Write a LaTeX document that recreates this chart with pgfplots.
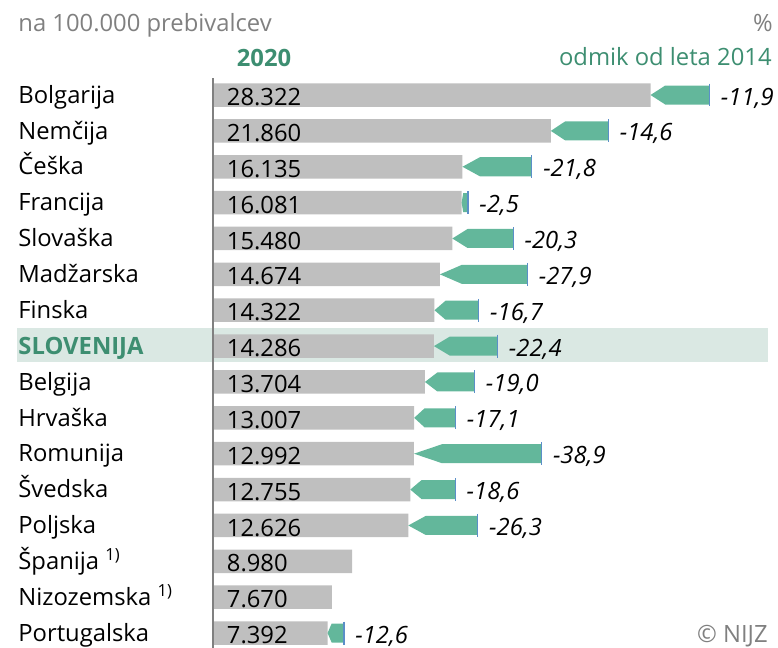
\documentclass[border=0pt]{standalone}
\usepackage{fontspec}
\setmainfont{Open Sans}
\usepackage{pgfplots}
\pgfplotsset{compat=1.18}
\usepackage{pgfplotstable}
\definecolor{bargray}{HTML}{BFBFBF}
\definecolor{arrowgreen}{HTML}{63B79B}
\definecolor{txtgreen}{HTML}{3D8E71}
\definecolor{bandgreen}{HTML}{DAE8E3}
\definecolor{lineblue}{HTML}{5B8FC8}
\definecolor{hdrgray}{HTML}{808080}

% 2020 values per 100.000 inhabitants
\pgfplotstableread{
i v zero lab
0 28322 0 28.322
1 21860 0 21.860
2 16135 0 16.135
3 16081 0 16.081
4 15480 0 15.480
5 14674 0 14.674
6 14322 0 14.322
7 14286 0 14.286
8 13704 0 13.704
9 13007 0 13.007
10 12992 0 12.992
11 12755 0 12.755
12 12626 0 12.626
13 8980 0 8.980
14 7670 0 7.670
15 7392 0 7.392
}\bars

% 2014 values (start of arrow) and change in %
\pgfplotstableread{
i v14 pct
0 32148 -11,9
1 25597 -14,6
2 20633 -21,8
3 16493 -2,5
4 19423 -20,3
5 20352 -27,9
6 17193 -16,7
7 18410 -22,4
8 16919 -19,0
9 15690 -17,1
10 21264 -38,9
11 15670 -18,6
12 17132 -26,3
15 8458 -12,6
}\pcts

% row, 2020 value (tip), head base, 2014 value
\newcommand\chg[4]{%
  \pgfmathsetmacro\ya{#1-0.265}%
  \pgfmathsetmacro\yb{#1+0.265}%
  \pgfmathsetmacro\yc{#1-0.32}%
  \pgfmathsetmacro\yd{#1+0.32}%
  \edef\tmp{\noexpand\addplot[fill=arrowgreen,draw=none] coordinates {(#2,#1) (#3,\ya) (#4,\ya) (#4,\yb) (#3,\yb)};
  \noexpand\addplot[lineblue, line width=0.6pt] coordinates {(#4,\yc) (#4,\yd)};}%
  \tmp}

\begin{document}
\fontsize{11.9}{14}\selectfont
\begin{tikzpicture}
\begin{axis}[
  at={(106.75pt,-39pt)}, anchor=north west,
  scale only axis, width=277.74pt, height=285pt,
  xmin=0, xmax=36000, ymin=-0.474, ymax=15.417, y dir=reverse,
  axis x line=none, axis y line=left, xtick=\empty,
  axis on top=true,
  y axis line style={-, draw=hdrgray, line width=1pt},
  ytick={0,...,15},
  yticklabels={Bolgarija, Nemčija, Češka, Francija, Slovaška, Madžarska, Finska, {\color{txtgreen}\bfseries SLOVENIJA}, Belgija, Hrvaška, Romunija, Švedska, Poljska, {Španija \textsuperscript{1)}}, {Nizozemska \textsuperscript{1)}}, Portugalska},
  ytick style={draw=none},
  major tick length=0pt,
  yticklabel style={anchor=base west, xshift=-97.75pt, yshift=-4.1pt, inner sep=0pt, font=\fontsize{11.9}{14}\selectfont},
  clip=false,
]
\fill[bandgreen] (axis cs:-12754,6.495) rectangle (axis cs:35937,7.445);
\addplot[xbar, fill=bargray, draw=none, bar width=11.75pt] table[x=v, y=i] {\bars};
\chg{0}{28322}{29278}{32148}
\chg{1}{21860}{22794}{25597}
\chg{2}{16135}{17260}{20633}
\chg{3}{16081}{16184}{16493}
\chg{4}{15480}{16466}{19423}
\chg{5}{14674}{16094}{20352}
\chg{6}{14322}{15040}{17193}
\chg{7}{14286}{15317}{18410}
\chg{8}{13704}{14508}{16919}
\chg{9}{13007}{13678}{15690}
\chg{10}{12992}{14812}{21264}
\chg{11}{12755}{13484}{15670}
\chg{12}{12626}{13752}{17132}
\chg{15}{7392}{7658}{8458}
\addplot[draw=none, nodes near coords, point meta=explicit symbolic,
  nodes near coords style={anchor=base west, inner sep=0pt, xshift=6.5pt, yshift=-5.3pt, text=black, font=\fontsize{11.9}{14}\selectfont}]
  table[x=zero, y=i, meta=lab] {\bars};
\addplot[draw=none, nodes near coords, point meta=explicit symbolic,
  nodes near coords style={anchor=base west, inner sep=0pt, xshift=5.5pt, yshift=-5pt, text=black, font=\fontsize{11.9}{14}\selectfont\itshape}]
  table[x=v14, y=i, meta=pct] {\pcts};
\end{axis}
\node[anchor=base west, inner sep=0pt, text=hdrgray] at (9pt,-15.75pt) {na 100.000 prebivalcev};
\node[anchor=base east, inner sep=0pt, text=hdrgray] at (386.5pt,-15.85pt) {\%};
\node[anchor=base, inner sep=0pt, text=txtgreen] at (132pt,-33.35pt) {\bfseries 2020};
\node[anchor=base east, inner sep=0pt, text=txtgreen] at (386pt,-32.5pt) {odmik od leta 2014};
\node[anchor=base east, inner sep=0pt, text=hdrgray] at (384pt,-321pt) {© NIJZ};
\pgfresetboundingbox
\path (0,0) rectangle (389pt,-324pt);
\end{tikzpicture}
\end{document}
